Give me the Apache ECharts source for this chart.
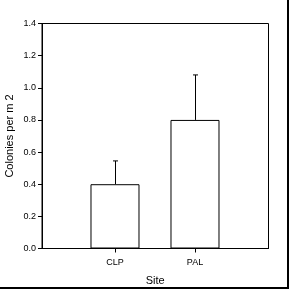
<!DOCTYPE html>
<html><head><meta charset="utf-8">
<script src="https://cdn.jsdelivr.net/npm/echarts@6/dist/echarts.min.js"></script>
<style>html,body{margin:0;padding:0;background:#fff}#c{width:289px;height:289px}</style>
</head><body><div id="c"></div>
<script>
var categories = ['CLP', 'PAL'];
var positions = [1, 2];
var means = [0.4, 0.8];
var upperErrors = [0.145, 0.28];
var yTicks = [0, 0.2, 0.4, 0.6, 0.8, 1.0, 1.2, 1.4];

var chart = echarts.init(document.getElementById('c'), null, {renderer: 'canvas'});
var font = 'Liberation Sans, Arial, sans-serif';
var barData = positions.map(function (p, i) { return [p, means[i]]; });
var errData = positions.map(function (p, i) { return [p, means[i], means[i] + upperErrors[i]]; });

chart.setOption({
  animation: false,
  backgroundColor: '#fff',
  grid: {left: 42, top: 23.5, right: 20.5, bottom: 40.5, containLabel: false, outerBoundsMode: 'none',
    show: true, borderColor: '#000', borderWidth: 1, backgroundColor: 'transparent'},
  xAxis: {
    type: 'value', min: 0.0875, max: 2.919,
    name: 'Site', nameLocation: 'middle', nameGap: 27,
    nameTextStyle: {fontFamily: font, fontSize: 11, color: '#000'},
    axisLine: {show: true, lineStyle: {color: '#000', width: 1}},
    axisTick: {show: true, customValues: positions, length: 4, inside: false, lineStyle: {color: '#000'}},
    axisLabel: {customValues: positions, margin: 10, fontFamily: font, fontSize: 9, color: '#000',
      formatter: function (v) { return categories[positions.indexOf(Math.round(v))] || ''; }},
    splitLine: {show: false}
  },
  yAxis: {
    type: 'value', min: 0, max: 1.4, interval: 0.2,
    name: 'Colonies per m 2', nameLocation: 'middle', nameGap: 27, nameMoveOverlap: false,
    nameTextStyle: {fontFamily: font, fontSize: 11, color: '#000'},
    axisLine: {show: true, lineStyle: {color: '#000', width: 1}},
    axisTick: {show: true, length: 4, inside: false, lineStyle: {color: '#000'}},
    axisLabel: {margin: 6, fontFamily: font, fontSize: 9, color: '#000',
      formatter: function (v) { return v.toFixed(1); }},
    splitLine: {show: false}
  },
  series: [
    {
      type: 'bar', data: barData, barWidth: 49,
      itemStyle: {color: '#fff', borderColor: '#000', borderWidth: 1},
      z: 2
    },
    {
      type: 'custom', data: errData, z: 3,
      renderItem: function (params, api) {
        var x = api.value(0);
        var top = api.coord([x, api.value(2)]);
        var base = api.coord([x, api.value(1)]);
        var cx = Math.round(top[0]) + 0.5;
        return {type: 'group', children: [
          {type: 'line', shape: {x1: cx, y1: top[1], x2: cx, y2: base[1]}, style: {stroke: '#000', lineWidth: 1}},
          {type: 'line', shape: {x1: cx - 2.5, y1: top[1], x2: cx + 2.5, y2: top[1]}, style: {stroke: '#000', lineWidth: 1}}
        ]};
      }
    }
  ],
  graphic: [
    {type: 'line', shape: {x1: 0, y1: 288, x2: 289, y2: 288}, style: {stroke: '#000', lineWidth: 2}},
    {type: 'line', shape: {x1: 288, y1: 0, x2: 288, y2: 289}, style: {stroke: '#000', lineWidth: 2}}
  ]
});
</script></body></html>
